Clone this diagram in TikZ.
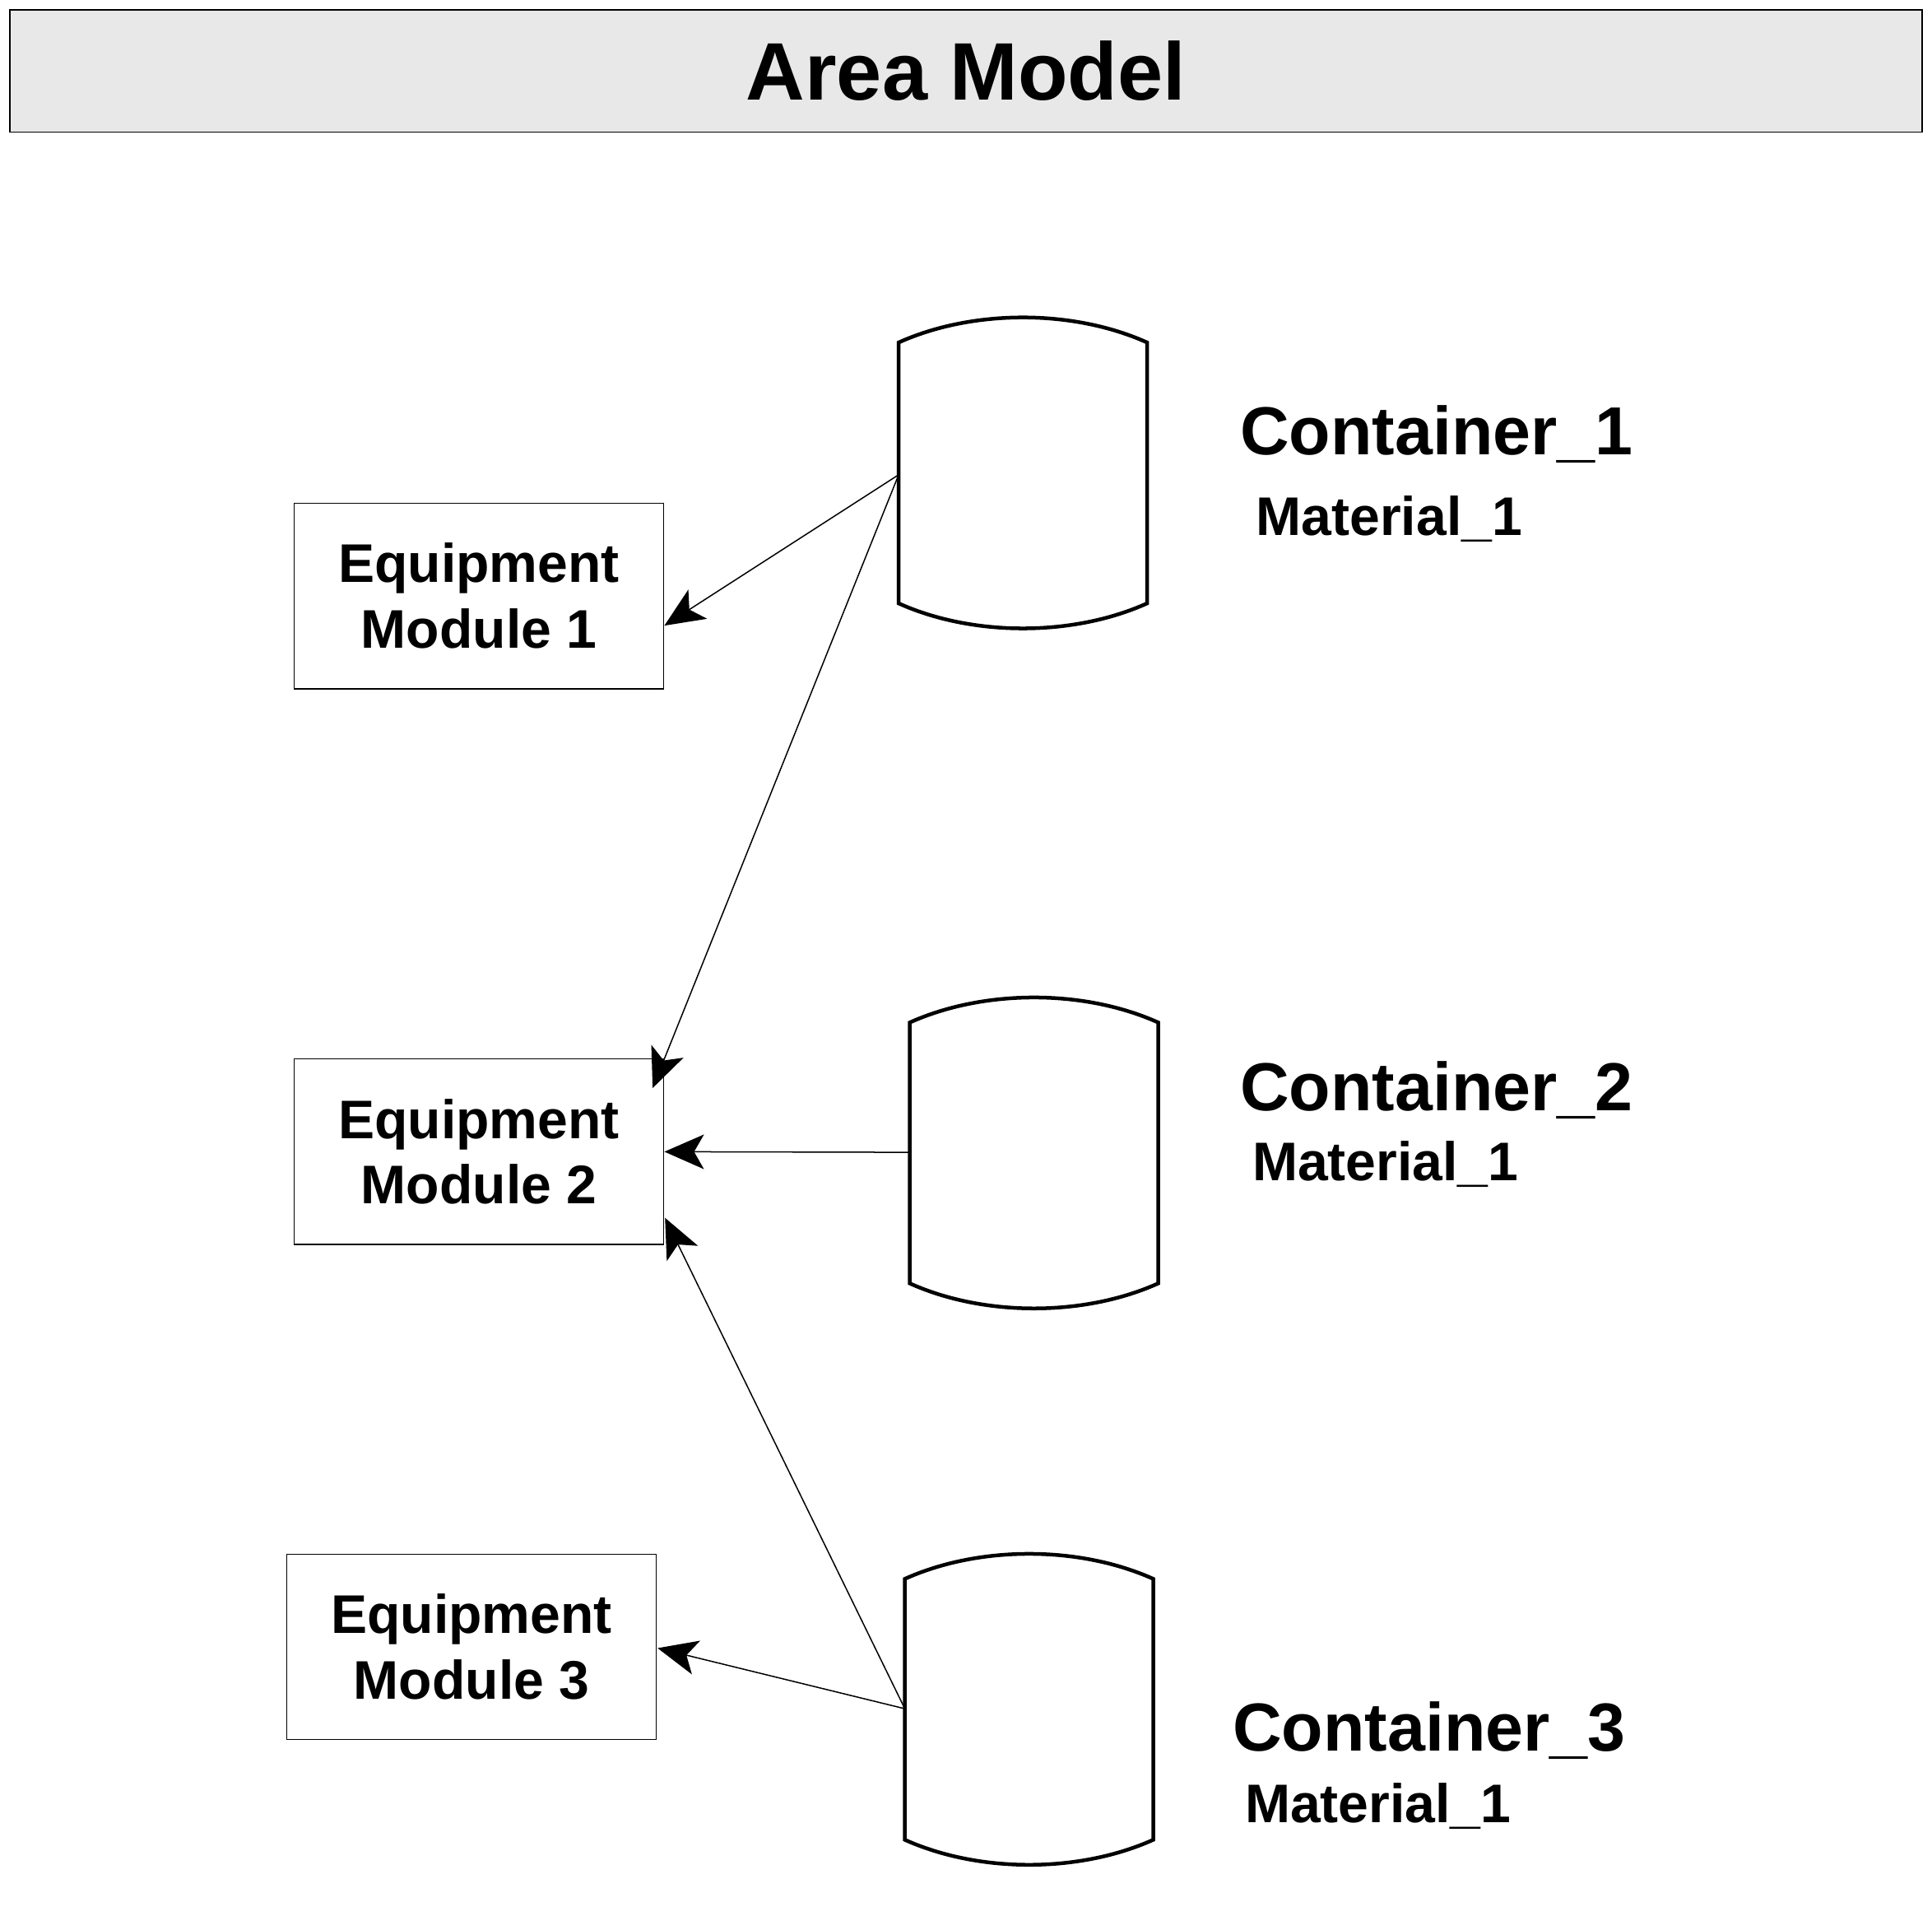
\documentclass[tikz,border=0pt]{standalone}
\usepackage{fontspec}
\setmainfont{Liberation Sans}
\usetikzlibrary{arrows.meta}
\begin{document}
\begin{tikzpicture}[x=1pt,y=-1pt,
  box/.style={draw,line width=1pt,minimum width=299pt,minimum height=150pt,inner sep=0pt,align=center,font=\fontsize{44}{53}\selectfont\bfseries},
  cont/.style={line width=3pt},
  arr/.style={line width=1pt,-{Stealth[length=32pt,width=28pt,inset=8pt]}},
  lbl/.style={anchor=base west,inner sep=0pt,font=\fontsize{55}{65}\selectfont\bfseries},
  mat/.style={anchor=base west,inner sep=0pt,font=\fontsize{44}{52}\selectfont\bfseries}]
\useasboundingbox (0,0) rectangle (1563,1561);
\node[draw,line width=1pt,fill=black!9,minimum width=1547pt,minimum height=99pt,inner sep=0pt,font=\fontsize{66}{72}\selectfont\bfseries] (title) at (781.5,57.5) {Area Model};
\node[box] (em1) at (387.5,482) {Equipment\\Module 1};
\node[box] (em2) at (387.5,931.5) {Equipment\\Module 2};
\node[box] (em3) at (381.5,1332) {Equipment\\Module 3};
% containers
\foreach \n/\x/\t in {1/727/257,2/736/807,3/732/1257}{
  \draw[cont] (\x,\t+20) .. controls (\x+60,\t-7) and (\x+141,\t-7) .. (\x+201,\t+20)
    -- (\x+201,\t+231) .. controls (\x+141,\t+258) and (\x+60,\t+258) .. (\x,\t+231) -- cycle;
}
\coordinate (c1) at (727,384);
\coordinate (c2) at (736,932);
\coordinate (c3) at (732,1382);
\node[lbl] (l1) at (1003,368) {Container\_1};
\node[mat] (m1) at (1016,433) {Material\_1};
\node[lbl] (l2) at (1003,898) {Container\_2};
\node[mat] (m2) at (1013,955) {Material\_1};
\node[lbl] (l3) at (997,1416) {Container\_3};
\node[mat] (m3) at (1007,1474) {Material\_1};
\draw[arr] (c1) -- (em1.east |- 0,506);
\draw[arr] (c1) -- (528,880);
\draw[arr] (c2) -- (em2.east);
\draw[arr] (c3) -- (538,985);
\draw[arr] (c3) -- (532,1333);
\end{tikzpicture}
\end{document}
